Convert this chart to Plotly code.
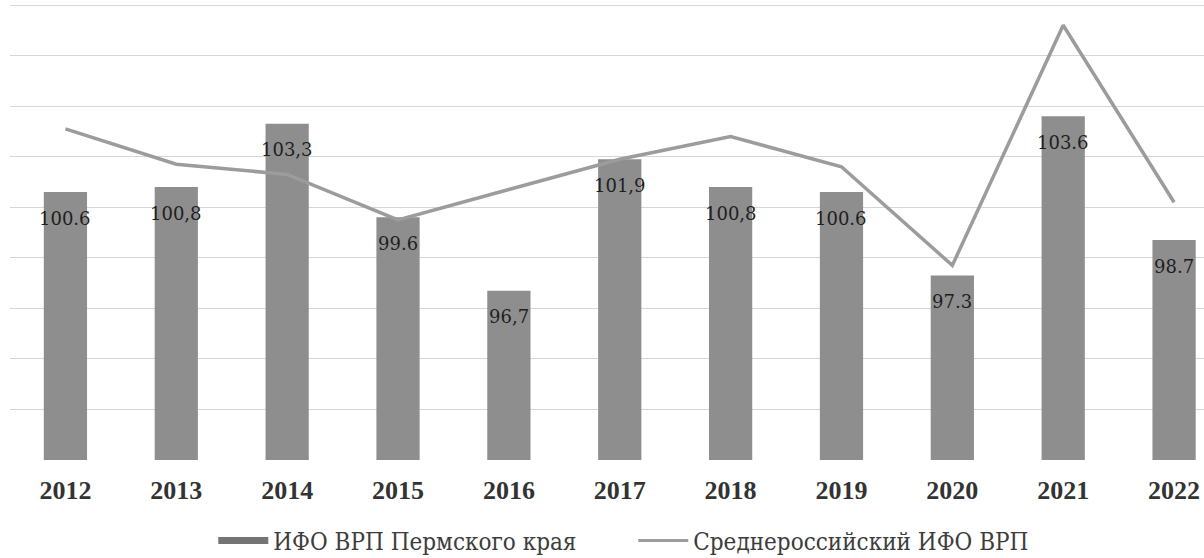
import plotly.graph_objects as go

years = ["2012", "2013", "2014", "2015", "2016", "2017", "2018", "2019", "2020", "2021", "2022"]
perm_index = [100.6, 100.8, 103.3, 99.6, 96.7, 101.9, 100.8, 100.6, 97.3, 103.6, 98.7]
perm_labels = ["100.6", "100,8", "103,3", "99.6", "96,7", "101,9", "100,8", "100.6", "97.3", "103.6", "98.7"]
russia_index = [103.1, 101.7, 101.3, 99.5, 100.7, 101.9, 102.8, 101.6, 97.7, 107.2, 100.2]

bar_name = "ИФО ВРП Пермского края"
line_name = "Среднероссийский ИФО ВРП"

BAR_COLOR = "#8e8e8e"
LINE_COLOR = "#9c9c9c"
SERIF = "Liberation Serif"
SERIF_A = "DejaVu Serif"
SERIF_B = "DejaVu Serif Condensed"

fig = go.Figure()
fig.add_trace(go.Bar(
    x=years, y=perm_index, width=0.39,
    marker=dict(color=BAR_COLOR, line=dict(width=0)),
    name=bar_name, showlegend=False, legendgroup="perm",
))
fig.add_trace(go.Scatter(
    x=years, y=russia_index, mode="lines",
    line=dict(color=LINE_COLOR, width=3.5),
    name=line_name, showlegend=False, legendgroup="rus",
))
# legend entries
fig.add_trace(go.Scatter(
    x=[None], y=[None], mode="lines", line=dict(color="#747474", width=7),
    name=bar_name, legendgroup="perm",
))
fig.add_trace(go.Scatter(
    x=[None], y=[None], mode="lines", line=dict(color=LINE_COLOR, width=3),
    name=line_name, legendgroup="rus",
))

for i, (v, lab) in enumerate(zip(perm_index, perm_labels)):
    fig.add_annotation(
        x=i, y=v, xref="x", yref="y", text=lab, showarrow=False,
        yanchor="middle", yshift=-26,
        font=dict(family=SERIF_A, size=18, color="#1e1e1e"),
    )

fig.update_layout(
    width=1204, height=558,
    margin=dict(l=10, r=0, t=0, b=98, autoexpand=False),
    paper_bgcolor="white", plot_bgcolor="white",
    barmode="overlay",
    font=dict(family=SERIF, color="#333333"),
    xaxis=dict(
        type="category", range=[-0.5, 10.27], automargin=False,
        showgrid=False, zeroline=False, showline=False, ticks="",
        ticklabelstandoff=12,
        tickfont=dict(family=SERIF, size=26, color="#333333", weight="bold"),
    ),
    yaxis=dict(
        range=[90, 108.2], dtick=2, tick0=90, automargin=False,
        showgrid=True, gridcolor="#d6d6d6", gridwidth=1,
        zeroline=False, showline=False, showticklabels=False, ticks="",
    ),
    legend=dict(
        orientation="h", x=0.522, xanchor="center", y=-0.176, yanchor="middle",
        font=dict(family=SERIF_B, size=24, color="#3c3c3c"),
        bgcolor="rgba(0,0,0,0)", itemwidth=50, entrywidth=355,
    ),
)

fig.write_html("out.html", config={"displayModeBar": False},
               post_script="document.body.style.margin='0';")
